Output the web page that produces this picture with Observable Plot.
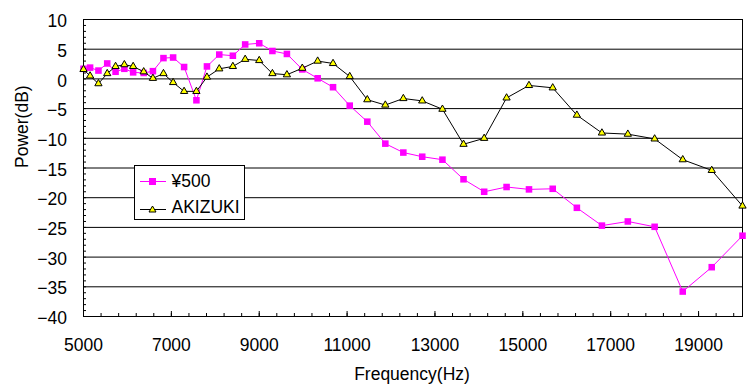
<!DOCTYPE html>
<html>
<head>
<meta charset="utf-8">
<script src="https://cdn.jsdelivr.net/npm/d3@7"></script>
<script src="https://cdn.jsdelivr.net/npm/@observablehq/plot@0.6"></script>
<style>
  body { margin: 0; background: #fff; }
  #wrap { position: relative; width: 750px; height: 389px; overflow: hidden; }
  #legend { position: absolute; left: 134px; top: 165px; }
</style>
</head>
<body>
<div id="wrap"></div>
<script>
// Frequencies (Hz) of the measurement points
const freq = [5000, 5150, 5340, 5540, 5730, 5930, 6130, 6370, 6580, 6820, 7040, 7290, 7570, 7810, 8090, 8400, 8680, 9000, 9300, 9630, 9980, 10330, 10680, 11060, 11460, 11870, 12280, 12710, 13170, 13650, 14120, 14630, 15140, 15680, 16230, 16800, 17390, 18000, 18640, 19300, 20000];
// Power (dB) — "¥500"
const yen500 = [1.7, 1.9, 1.4, 2.6, 1.2, 1.7, 1.1, 1.0, 1.3, 3.5, 3.6, 2.0, -3.6, 2.1, 4.1, 3.9, 5.8, 6.0, 4.7, 4.2, 1.6, 0.1, -1.4, -4.5, -7.2, -10.9, -12.4, -13.1, -13.6, -16.9, -19.0, -18.2, -18.6, -18.5, -21.7, -24.7, -24.0, -24.9, -35.8, -31.7, -26.4];
// Power (dB) — "AKIZUKI"
const akizuki = [1.6, 0.5, -0.8, 0.9, 2.1, 2.4, 2.1, 1.2, 0.1, 0.9, -0.6, -2.1, -2.1, 0.3, 1.7, 2.1, 3.3, 3.1, 0.9, 0.7, 1.8, 3.0, 2.6, 0.4, -3.5, -4.4, -3.3, -3.7, -5.1, -11.0, -10.0, -3.2, -1.1, -1.5, -6.1, -9.1, -9.3, -10.1, -13.6, -15.4, -21.4];
// Series names
const seriesNames = ["¥500", "AKIZUKI"];
// Axis ticks
const xMajor = [5000, 7000, 9000, 11000, 13000, 15000, 17000, 19000];
const xMinor = d3.range(5000, 20000, 400);
const yMajor = [10, 5, 0, -5, -10, -15, -20, -25, -30, -35, -40];
const yMinor = d3.range(-40, 11, 1);
const xLabel = "Frequency(Hz)";
const yLabel = "Power(dB)";

const data = freq.map((f, i) => ({f, yen: yen500[i], aki: akizuki[i]}));
const font = "'Liberation Sans', Arial, sans-serif";
const magenta = "#FF00FF";

const chart = Plot.plot({
  width: 750,
  height: 389,
  marginLeft: 83,
  marginRight: 8,
  marginTop: 19,
  marginBottom: 73,
  style: {fontFamily: font, fontSize: "17.5px", color: "#000", background: "#fff", overflow: "visible"},
  x: {domain: [5000, 20000], axis: null},
  y: {domain: [-40, 10], axis: null},
  marks: [
    Plot.ruleY(yMajor, {stroke: "#000", strokeWidth: 1}),
    Plot.frame({stroke: "#000", strokeWidth: 1}),
    Plot.axisX({ticks: xMinor, tickSize: -3, tickFormat: () => "", label: null}),
    Plot.axisX({ticks: xMajor, tickSize: -5, tickFormat: () => "", label: null}),
    Plot.axisY({ticks: yMinor, tickSize: -3, tickFormat: () => "", label: null}),
    Plot.axisX({ticks: xMajor, tickSize: 0, tickPadding: 22, tickFormat: d => String(d), label: null, fontSize: 17.5}),
    Plot.axisY({ticks: yMajor, tickSize: 0, tickPadding: 16.6, dy: 2, label: null, fontSize: 17.5}),
    Plot.text([xLabel], {frameAnchor: "bottom", lineAnchor: "bottom", dy: 63.3, dx: -1, fontSize: 17.5}),
    Plot.text([yLabel], {frameAnchor: "left", lineAnchor: "bottom", rotate: -90, dx: -56, fontSize: 17.5}),
    Plot.line(data, {x: "f", y: "yen", stroke: magenta, strokeWidth: 1}),
    Plot.dot(data, {x: "f", y: "yen", symbol: "square", r: 3.7, fill: magenta, stroke: null}),
    Plot.line(data, {x: "f", y: "aki", stroke: "#000", strokeWidth: 1}),
    Plot.dot(data, {x: "f", y: "aki", symbol: "triangle", r: 2.7, fill: "#FFFF00", stroke: "#000", strokeWidth: 1})
  ]
});

const wrap = document.getElementById("wrap");
wrap.appendChild(chart);

// Legend
const legend = document.createElement("div");
legend.id = "legend";
legend.innerHTML = `
<svg width="111" height="55" style="font-family:${font};font-size:17.5px">
  <rect x="0.5" y="0.5" width="110" height="54" fill="#fff" stroke="#000"/>
  <line x1="6" x2="32" y1="16.5" y2="16.5" stroke="${magenta}"/>
  <rect x="15" y="13" width="7" height="7" fill="${magenta}"/>
  <text x="37.5" y="21.7" fill="#000">${seriesNames[0]}</text>
  <line x1="6" x2="32" y1="44.5" y2="44.5" stroke="#000"/>
  <path d="M18.5,41 L22,47 L15,47 Z" fill="#FFFF00" stroke="#000"/>
  <text x="37.5" y="48.3" fill="#000">${seriesNames[1]}</text>
</svg>`;
wrap.appendChild(legend);
</script>
</body>
</html>
